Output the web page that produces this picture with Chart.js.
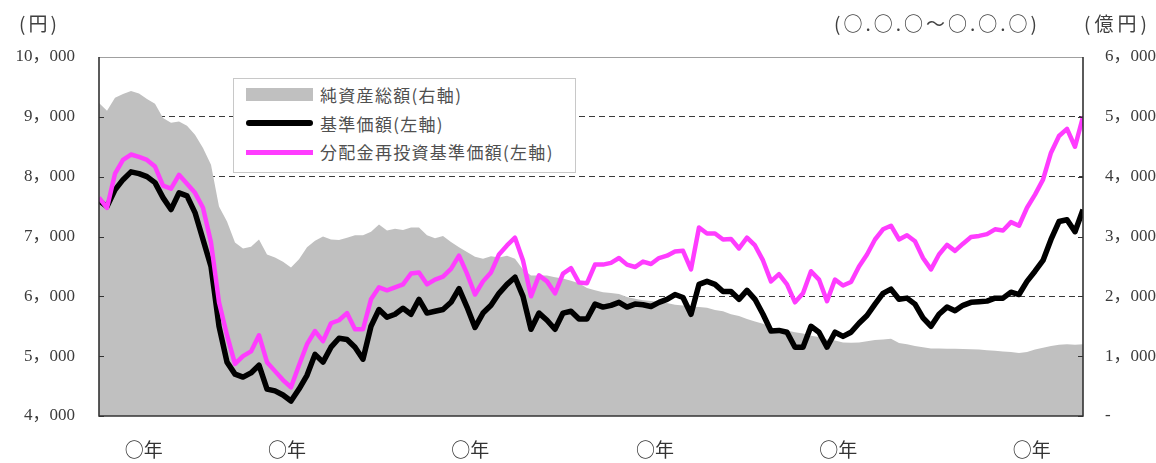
<!DOCTYPE html>
<html>
<head>
<meta charset="utf-8">
<script src="https://cdn.jsdelivr.net/npm/chart.js@4.4.1/dist/chart.umd.min.js"></script>
<style>
html, body { margin: 0; padding: 0; background: #fff; }
#wrap { position: relative; width: 1156px; height: 463px; }
#chart { position: absolute; left: 0; top: 0; }
.txt { position: absolute; font-family: "Noto Sans CJK JP"; color: #404040; white-space: nowrap; line-height: 1; }
#legend { position: absolute; left: 233px; top: 78px; width: 341px; height: 93px; border: 1px solid #c8c8c8; background: #fff; }
#legend .sw { position: absolute; left: 12px; width: 67px; }
#legend .lb { position: absolute; left: 86px; font-family: "Noto Sans CJK JP"; font-size: 17px; letter-spacing: 1.3px; color: #505050; line-height: 1; }
</style>
</head>
<body>
<div id="wrap">
  <canvas id="chart" width="1156" height="463"></canvas>
  <div class="txt" style="left:19px;top:13px;font-size:19px;letter-spacing:3px;">(円)</div>
  <div class="txt" style="left:834px;top:13px;font-size:19px;letter-spacing:3px;">(○.○.○～○.○.○)</div>
  <div class="txt" style="left:1084px;top:13px;font-size:19px;letter-spacing:4px;">(億円)</div>
  <div id="legend">
    <div class="sw" style="top:9px;height:13px;background:#c0c0c0;"></div>
    <div class="lb" style="top:7px;">純資産総額(右軸)</div>
    <div class="sw" style="top:41px;height:6px;background:#000;border-radius:3px;"></div>
    <div class="lb" style="top:36px;">基準価額(左軸)</div>
    <div class="sw" style="top:71px;height:5px;background:#ff3cff;"></div>
    <div class="lb" style="top:64px;">分配金再投資基準価額(左軸)</div>
  </div>
</div>
<script>
// 純資産総額（億円、右軸）
const navValues = [
  5230, 5100, 5320, 5380, 5430, 5390, 5300, 5220, 4980, 4900,
  4920, 4850, 4700, 4480, 4200, 3500, 3250, 2900, 2800, 2830,
  2950, 2700, 2650, 2580, 2480, 2620, 2820, 2930, 3000, 2950,
  2940, 2980, 3020, 3020, 3080, 3200, 3100, 3130, 3110, 3150,
  3150, 3020, 2970, 3010, 2910, 2820, 2740, 2660, 2630, 2670,
  2650, 2680, 2630, 2450, 2350, 2350, 2350, 2320, 2300, 2260,
  2220, 2140, 2100, 2070, 2055, 2040, 1990, 1960, 1935, 1920,
  1905, 1890, 1860, 1845, 1830, 1820, 1810, 1770, 1750, 1700,
  1670, 1620, 1580, 1540, 1480, 1450, 1430, 1400, 1380, 1340,
  1320, 1280, 1260, 1230, 1225, 1230, 1250, 1270, 1280, 1290,
  1220, 1200, 1170, 1150, 1130, 1130, 1125, 1125, 1120, 1115,
  1110, 1100, 1090, 1080, 1070, 1055, 1070, 1110, 1140, 1170,
  1190, 1200, 1190, 1200
];
// 基準価額（円、左軸）
const basePrice = [
  7600, 7500, 7780, 7950, 8080, 8050, 8000, 7900, 7650, 7450,
  7730, 7680, 7400, 6950, 6500, 5500, 4900, 4700, 4650, 4720,
  4850, 4450, 4420, 4350, 4250, 4450, 4680, 5030, 4900, 5150,
  5300, 5280, 5150, 4950, 5500, 5780, 5650, 5700, 5800, 5700,
  5950, 5720, 5750, 5780, 5900, 6130, 5820, 5480, 5720, 5850,
  6050, 6200, 6320, 6000, 5450, 5720, 5600, 5450, 5720, 5750,
  5620, 5620, 5870, 5820, 5850, 5900, 5820, 5870, 5860, 5830,
  5900, 5950, 6030, 5980, 5700, 6200, 6250, 6200, 6080, 6080,
  5950, 6100, 5950, 5700, 5420, 5430, 5400, 5150, 5150, 5500,
  5400, 5150, 5400, 5330, 5400, 5550, 5680, 5870, 6050, 6120,
  5950, 5970, 5870, 5640, 5500, 5700, 5820, 5760, 5850, 5900,
  5910, 5920, 5970, 5970, 6070, 6030, 6250, 6420, 6600, 6950,
  7250, 7280, 7080, 7450
];
// 分配金再投資基準価額（円、左軸）
const reinvestPrice = [
  7650, 7480, 8050, 8280, 8370, 8330, 8280, 8170, 7850, 7800,
  8030, 7880, 7730, 7480, 6900, 5900, 5350, 4870, 5000, 5080,
  5350, 4900, 4750, 4600, 4480, 4850, 5200, 5420, 5250, 5550,
  5600, 5720, 5450, 5450, 5950, 6150, 6100, 6150, 6200, 6380,
  6400, 6200, 6280, 6330, 6460, 6680, 6380, 6030, 6250, 6400,
  6700, 6850, 6980, 6600, 6000, 6350, 6250, 6050, 6380, 6470,
  6230, 6220, 6530, 6530, 6560, 6640, 6530, 6490, 6580, 6540,
  6640, 6680, 6750, 6760, 6450, 7150, 7050, 7050, 6950, 6960,
  6800, 6980, 6850, 6600, 6250, 6370, 6200, 5900, 6050, 6420,
  6280, 5920, 6280, 6180, 6240, 6500, 6700, 6950, 7120, 7180,
  6950, 7020, 6920, 6640, 6450, 6700, 6860, 6760, 6880, 6990,
  7010, 7040, 7120, 7100, 7240, 7180, 7480, 7700, 7950, 8400,
  8680, 8800, 8500, 9000
];
// 年ラベルの位置（データ番号）
const yearTickPos = [5.6, 23.5, 46.4, 69.5, 92.4, 116.6];
const yearLabel = '○年';
const leftTicks = [4000, 5000, 6000, 7000, 8000, 9000, 10000];
const dashedAt = [5000, 6000, 8000, 9000];

const dayIndex = basePrice.map((_, i) => i);

function fmt(v) {
  return String(v).replace(/\B(?=(\d{3})+(?!\d))/g, '，');
}

const tickFont = { family: "'Liberation Serif', 'Noto Sans CJK JP'", size: 17 };

// 枠と内向き目盛り
const framePlugin = {
  id: 'frame',
  afterDatasetsDraw(chart) {
    const { ctx, chartArea: a, scales } = chart;
    ctx.save();
    ctx.strokeStyle = '#333';
    ctx.lineWidth = 1;
    scales.y.ticks.forEach(t => {
      const py = Math.round(scales.y.getPixelForValue(t.value)) + 0.5;
      ctx.beginPath(); ctx.moveTo(a.left, py); ctx.lineTo(a.left + 5, py); ctx.stroke();
    });
    scales.y2.ticks.forEach(t => {
      const py = Math.round(scales.y2.getPixelForValue(t.value)) + 0.5;
      ctx.beginPath(); ctx.moveTo(a.right - 5, py); ctx.lineTo(a.right, py); ctx.stroke();
    });
    ctx.strokeStyle = '#a0a0a0';
    ctx.beginPath(); ctx.moveTo(a.left, a.top + 0.5); ctx.lineTo(a.right, a.top + 0.5); ctx.stroke();
    ctx.strokeStyle = '#333';
    ctx.lineWidth = 1.6;
    ctx.beginPath();
    ctx.moveTo(a.left, a.top); ctx.lineTo(a.left, a.bottom); ctx.lineTo(a.right, a.bottom); ctx.lineTo(a.right, a.top);
    ctx.stroke();
    ctx.restore();
  }
};

new Chart(document.getElementById('chart'), {
  type: 'line',
  data: {
    labels: dayIndex,
    datasets: [
      {
        label: '分配金再投資基準価額(左軸)',
        data: reinvestPrice,
        yAxisID: 'y',
        borderColor: '#ff3cff',
        borderWidth: 4.5,
        borderJoinStyle: 'round',
        pointRadius: 0,
        fill: false,
        order: 1
      },
      {
        label: '基準価額(左軸)',
        data: basePrice,
        yAxisID: 'y',
        borderColor: '#000',
        borderWidth: 5.5,
        borderJoinStyle: 'round',
        pointRadius: 0,
        fill: false,
        order: 2
      },
      {
        label: '純資産総額(右軸)',
        data: navValues,
        yAxisID: 'y2',
        borderWidth: 0,
        borderColor: 'rgba(0,0,0,0)',
        backgroundColor: '#c0c0c0',
        pointRadius: 0,
        fill: 'origin',
        order: 3
      }
    ]
  },
  options: {
    responsive: false,
    animation: false,
    layout: { padding: { top: 57, left: 0, right: 0, bottom: 0 } },
    plugins: { legend: { display: false }, tooltip: { enabled: false } },
    scales: {
      x: {
        type: 'linear',
        min: 0,
        max: dayIndex.length - 1,
        afterBuildTicks: s => { s.ticks = yearTickPos.map(v => ({ value: v })); },
        afterFit: s => { s.height = 47; },
        grid: { display: false, drawTicks: false },
        border: { display: false },
        ticks: {
          autoSkip: false,
          maxRotation: 0,
          padding: 22,
          color: '#333',
          font: { family: "'Noto Sans CJK JP'", size: 19 },
          callback: () => yearLabel
        }
      },
      y: {
        position: 'left',
        min: 4000,
        max: 10000,
        afterBuildTicks: s => { s.ticks = leftTicks.map(v => ({ value: v })); },
        afterFit: s => { s.width = 99; },
        grid: {
          drawTicks: false,
          lineWidth: 1,
          color: c => dashedAt.includes(c.tick.value) ? '#3a3a3a' : 'rgba(0,0,0,0)'
        },
        border: { display: false, dash: [6, 4] },
        ticks: { padding: 24, color: '#3c3c3c', font: tickFont, callback: v => fmt(v) }
      },
      y2: {
        position: 'right',
        min: 0,
        max: 6000,
        ticks: { stepSize: 1000, padding: 22, color: '#3c3c3c', font: tickFont, callback: v => v === 0 ? '-' : fmt(v) },
        afterFit: s => { s.width = 73; },
        grid: { display: false, drawTicks: false },
        border: { display: false }
      }
    }
  },
  plugins: [framePlugin]
});
</script>
</body>
</html>
